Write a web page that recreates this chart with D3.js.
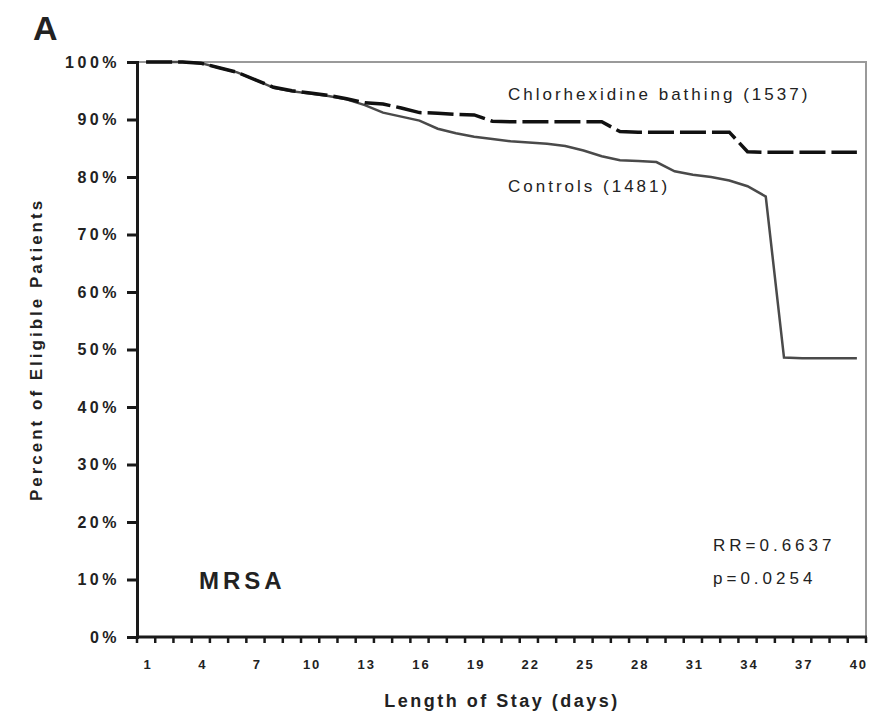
<!DOCTYPE html>
<html>
<head>
<meta charset="utf-8">
<script src="https://cdn.jsdelivr.net/npm/d3@7"></script>
<style>
  body { margin: 0; background: #fff; }
  svg text { font-family: "Liberation Sans", Arial, sans-serif; fill: #222; }
</style>
</head>
<body>
<div id="chart"></div>
<script>
(function(){
	// data (percent of eligible patients, by day of stay)
	var days = d3.range(1, 41);
	var xTickDays = [1,4,7,10,13,16,19,22,25,28,31,34,37,40];
	var yTicks = [0,0.1,0.2,0.3,0.4,0.5,0.6,0.7,0.8,0.9,1.0];
	var chgValues = [100,100,100,99.8,99.0,98.2,96.9,95.6,95.0,94.6,
	                 94.2,93.6,92.9,92.7,92.0,91.2,91.1,90.9,90.8,89.7,
	                 89.6,89.6,89.6,89.6,89.6,89.6,87.9,87.8,87.8,87.8,
	                 87.8,87.8,87.8,84.4,84.3,84.3,84.3,84.3,84.3,84.3];
	var ctlValues = [100,100,100,99.8,99.0,98.2,96.9,95.5,94.9,94.5,
	                 94.1,93.5,92.5,91.2,90.5,89.8,88.4,87.6,87.0,86.6,
	                 86.2,86.0,85.8,85.4,84.6,83.6,82.9,82.8,82.6,81.0,
	                 80.4,80.0,79.4,78.4,76.6,48.6,48.5,48.5,48.5,48.5];
	var seriesNames = ["Chlorhexidine bathing (1537)", "Controls (1481)"];

	var W = 878, H = 713;
	var left = 137, right = 866, top = 62, bottom = 637;

	var svg = d3.select("#chart").append("svg")
	            .attr("width", W).attr("height", H);

	var x = d3.scaleLinear().domain([0.5, 40.5]).range([left, right]);
	var y = d3.scaleLinear().domain([0, 1]).range([bottom, top]);

	// gray frame (top, right)
	svg.append("path")
	   .attr("d", "M" + left + "," + top + "H" + right + "V" + bottom)
	   .attr("fill", "none").attr("stroke", "#9a9a9a").attr("stroke-width", 2);

	// y axis
	var yAxis = svg.append("g")
	   .attr("transform", "translate(" + left + ",0)")
	   .call(d3.axisLeft(y).tickValues(yTicks).tickFormat(d3.format(".0%")).tickSize(10).tickPadding(7));
	yAxis.select(".domain").attr("stroke", "#1a1a1a").attr("stroke-width", 3);
	yAxis.selectAll(".tick line").attr("stroke", "#1a1a1a").attr("stroke-width", 3);
	yAxis.selectAll("text")
	     .attr("font-size", 16).attr("font-weight", "bold")
	     .attr("letter-spacing", 3.5).attr("fill", "#333")
	     .attr("font-family", "Liberation Sans, Arial, sans-serif");

	// x axis : ticks between days, labels every 3 days
	var xAxis = svg.append("g")
	   .attr("transform", "translate(0," + bottom + ")");
	xAxis.append("line")
	   .attr("x1", left - 1).attr("x2", right + 1)
	   .attr("stroke", "#1a1a1a").attr("stroke-width", 3);
	xAxis.selectAll("line.tk")
	   .data(d3.range(0.5, 41, 1))
	   .enter().append("line")
	   .attr("class", "tk")
	   .attr("x1", function(d){ return x(d); })
	   .attr("x2", function(d){ return x(d); })
	   .attr("y1", 0).attr("y2", 6)
	   .attr("stroke", "#1a1a1a").attr("stroke-width", 2.5);
	xAxis.selectAll("text")
	   .data(xTickDays)
	   .enter().append("text")
	   .attr("x", function(d){ return x(d) + 2; })
	   .attr("y", 32)
	   .attr("text-anchor", "middle")
	   .attr("font-size", 13).attr("font-weight", "bold")
	   .attr("letter-spacing", 2).attr("fill", "#444")
	   .text(function(d){ return d; });

	// lines
	var line = d3.line()
	   .x(function(d, i){ return x(days[i]); })
	   .y(function(d){ return y(d / 100); });

	svg.append("path")
	   .datum(ctlValues)
	   .attr("d", line)
	   .attr("fill", "none")
	   .attr("stroke", "#4a4a4a")
	   .attr("stroke-width", 2.5);

	svg.append("path")
	   .datum(chgValues)
	   .attr("d", line)
	   .attr("fill", "none")
	   .attr("stroke", "#111")
	   .attr("stroke-width", 3.5)
	   .attr("stroke-dasharray", "26,6");

	// labels
	svg.append("text").attr("x", 508).attr("y", 100)
	   .attr("font-size", 17).attr("letter-spacing", 3).attr("fill", "#333")
	   .text(seriesNames[0]);
	svg.append("text").attr("x", 508).attr("y", 192)
	   .attr("font-size", 17).attr("letter-spacing", 3).attr("fill", "#333")
	   .text(seriesNames[1]);

	svg.append("text").attr("x", 199).attr("y", 589)
	   .attr("font-size", 24).attr("font-weight", "bold").attr("letter-spacing", 4)
	   .attr("fill", "#333").text("MRSA");
	svg.append("text").attr("x", 713).attr("y", 551)
	   .attr("font-size", 17).attr("letter-spacing", 4).attr("fill", "#333")
	   .text("RR=0.6637");
	svg.append("text").attr("x", 713).attr("y", 584)
	   .attr("font-size", 17).attr("letter-spacing", 4).attr("fill", "#333")
	   .text("p=0.0254");

	// panel letter
	svg.append("text").attr("x", 33).attr("y", 40)
	   .attr("font-size", 34).attr("font-weight", "bold").attr("fill", "#111")
	   .text("A");

	// axis titles
	svg.append("text")
	   .attr("transform", "translate(42," + ((top + bottom) / 2) + ") rotate(-90)")
	   .attr("text-anchor", "middle")
	   .attr("font-size", 17).attr("font-weight", "bold").attr("letter-spacing", 3)
	   .attr("fill", "#333")
	   .text("Percent of Eligible Patients");
	svg.append("text")
	   .attr("x", 502).attr("y", 707)
	   .attr("text-anchor", "middle")
	   .attr("font-size", 18).attr("font-weight", "bold").attr("letter-spacing", 2.5)
	   .attr("fill", "#333")
	   .text("Length of Stay (days)");
})();
</script>
</body>
</html>
